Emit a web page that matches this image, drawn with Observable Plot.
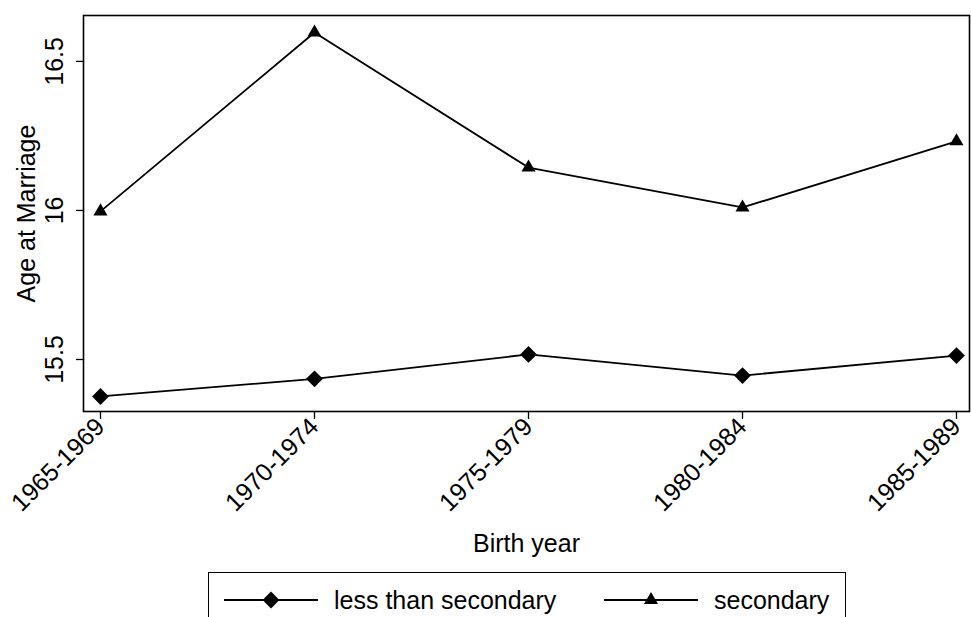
<!DOCTYPE html>
<html>
<head>
<meta charset="utf-8">
<script src="https://cdn.jsdelivr.net/npm/d3@7"></script>
<script src="https://cdn.jsdelivr.net/npm/@observablehq/plot@0.6"></script>
<style>
  body { margin: 0; background: #fff; font-family: "Liberation Sans", Arial, sans-serif; }
  #legend {
    position: absolute; left: 208px; top: 572px; width: 638px; height: 60px;
    border: 1.5px solid #000; box-sizing: border-box; font-size: 25px; color: #000;
  }
  #legend .item { position: absolute; top: 12px; display: flex; align-items: center; }
  #legend svg { display: block; }
</style>
</head>
<body>
<div id="chart"></div>
<div id="legend"></div>
<script>
const categories = ["1965-1969", "1970-1974", "1975-1979", "1980-1984", "1985-1989"];
const lessThanSecondary = [15.376, 15.435, 15.517, 15.446, 15.513];
const secondary = [15.997, 16.597, 16.144, 16.010, 16.232];
const yTicks = [15.5, 16, 16.5];
const seriesNames = ["less than secondary", "secondary"];

const rows = [
  ...categories.map((c, i) => ({cat: c, value: lessThanSecondary[i], series: seriesNames[0]})),
  ...categories.map((c, i) => ({cat: c, value: secondary[i], series: seriesNames[1]}))
];

const font = "Liberation Sans, Arial, sans-serif";

const chart = Plot.plot({
  width: 971,
  height: 570,
  marginLeft: 83,
  marginRight: 2,
  marginTop: 15,
  marginBottom: 159,
  style: {fontFamily: font, fontSize: "25px", color: "#000", background: "#fff"},
  x: {type: "point", domain: categories, padding: 0, insetLeft: 17, insetRight: 13},
  y: {domain: [15.3255, 16.654]},
  marks: [
    Plot.frame({stroke: "#000", strokeWidth: 1.6}),
    Plot.axisX({tickSize: 8, tickRotate: -45, tickPadding: 3, label: null, strokeWidth: 1.3, fontSize: 25}),
    Plot.axisY(yTicks, {tickSize: 7, tickRotate: -90, tickPadding: 14, label: null, strokeWidth: 1.3, fontSize: 25, tickFormat: d => String(d)}),
    Plot.text(["Birth year"], {frameAnchor: "bottom", dy: 123, lineAnchor: "top", fontSize: 25, fill: "#000"}),
    Plot.text(["Age at Marriage"], {frameAnchor: "left", dx: -49, rotate: -90, textAnchor: "middle", lineAnchor: "bottom", fontSize: 25, fill: "#000"}),
    Plot.line(rows, {x: "cat", y: "value", z: "series", stroke: "#000", strokeWidth: 1.8}),
    Plot.dot(rows.filter(d => d.series === seriesNames[0]), {x: "cat", y: "value", symbol: "diamond2", r: 7.6, fill: "#000", stroke: "none"}),
    Plot.dot(rows.filter(d => d.series === seriesNames[1]), {x: "cat", y: "value", symbol: "triangle", r: 5.2, fill: "#000", stroke: "none"})
  ]
});
document.getElementById("chart").appendChild(chart);

// Legend
const legend = document.getElementById("legend");
const items = [
  {name: seriesNames[0], symbol: d3.symbolDiamond2, size: Math.PI * 7.6 * 7.6, left: 15},
  {name: seriesNames[1], symbol: d3.symbolTriangle, size: Math.PI * 5.2 * 5.2, left: 395}
];
items.forEach(it => {
  const div = document.createElement("div");
  div.className = "item";
  div.style.left = it.left + "px";
  const svg = d3.create("svg").attr("width", 94).attr("height", 30);
  svg.append("line").attr("x1", 0).attr("x2", 94).attr("y1", 15).attr("y2", 15).attr("stroke", "#000").attr("stroke-width", 1.8);
  svg.append("path").attr("d", d3.symbol(it.symbol, it.size)()).attr("transform", "translate(47,15)").attr("fill", "#000");
  div.appendChild(svg.node());
  const span = document.createElement("span");
  span.textContent = it.name;
  span.style.marginLeft = "16px";
  div.appendChild(span);
  legend.appendChild(div);
});
</script>
</body>
</html>
